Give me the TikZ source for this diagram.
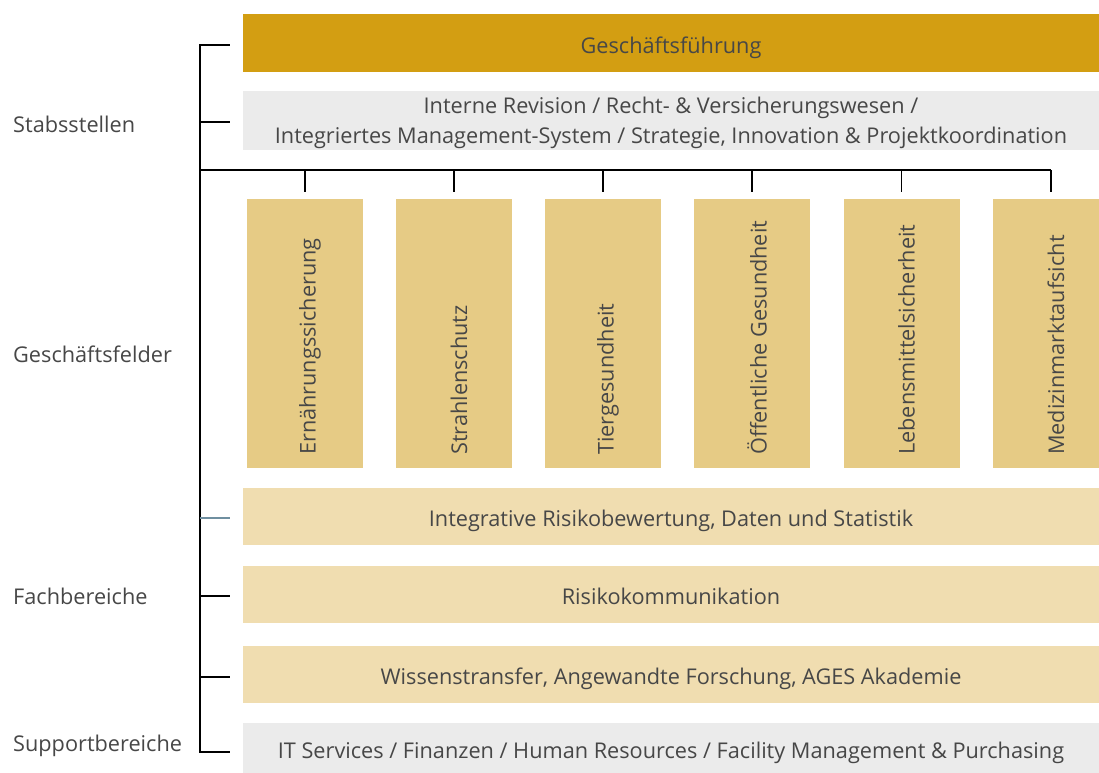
\documentclass[tikz,border=0pt]{standalone}
\usepackage{fontspec}
\setmainfont{Open Sans}
\definecolor{gold}{HTML}{D39E12}
\definecolor{tan}{HTML}{E6CB85}
\definecolor{lighttan}{HTML}{F0DDB0}
\definecolor{lightgrey}{HTML}{EBEBEB}
\definecolor{txt}{HTML}{474747}
\definecolor{tickblue}{HTML}{6F8FA0}
\begin{document}
\begin{tikzpicture}[x=1pt, y=-1pt,
    every node/.style={text=txt, font=\fontsize{21.7}{30}\selectfont},
    bar/.style={draw=none, minimum width=856pt, minimum height=58pt, inner sep=0pt, text height=20pt, text depth=0pt},
    field/.style={fill=tan, draw=none, minimum width=116pt, minimum height=269pt, inner sep=0pt},
    vlabel/.style={rotate=90, anchor=west, inner sep=0pt},
    link/.style={line width=1.1pt}]
    \useasboundingbox (0,0) rectangle (1099,772);
    % bars
    \node[bar, fill=gold] (gf) at (671,43) {Geschäftsführung};
    \node[bar, fill=lightgrey, align=center, minimum height=59pt, text height={}, text depth=0pt] (stab) at (671,120.5) {Interne Revision / Recht- \& Versicherungswesen /\\Integriertes Management-System / Strategie, Innovation \& Projektkoordination};
    \node[bar, fill=lighttan, minimum height=57pt] (irb) at (671,516.5) {Integrative Risikobewertung, Daten und Statistik};
    \node[bar, fill=lighttan, minimum height=57pt] (rk) at (671,594.5) {Risikokommunikation};
    \node[bar, fill=lighttan, minimum height=57pt] (wt) at (671,674.5) {Wissenstransfer, Angewandte Forschung, AGES Akademie};
    \node[bar, fill=lightgrey, minimum height=50pt] (sup) at (671,748) {IT Services / Finanzen / Human Resources / Facility Management \& Purchasing};
    % fields
    \node[field] (f1) at (305,333.5) {};
    \node[field] (f2) at (454,333.5) {};
    \node[field] (f3) at (603,333.5) {};
    \node[field] (f4) at (752,333.5) {};
    \node[field] (f5) at (901.5,333.5) {};
    \node[field] (f6) at (1051,333.5) {};
    \node[vlabel] at (310,455) {Ernährungssicherung};
    \node[vlabel] at (459,455) {Strahlenschutz};
    \node[vlabel] at (608,455) {Tiergesundheit};
    \node[vlabel] at (757,455) {Öffentliche Gesundheit};
    \node[vlabel] at (906.5,455) {Lebensmittelsicherheit};
    \node[vlabel] at (1056,455) {Medizinmarktaufsicht};
    % left labels
    \node[anchor=west, inner sep=0pt] (l1) at (13,124) {Stabsstellen};
    \node[anchor=west, inner sep=0pt] (l2) at (13,354) {Geschäftsfelder};
    \node[anchor=west, inner sep=0pt] (l3) at (13,596) {Fachbereiche};
    \node[anchor=west, inner sep=0pt] (l4) at (13,746) {Supportbereiche};
    % tree
    \coordinate (top) at (200,45);
    \coordinate (bot) at (200,752);
    \coordinate (fork) at (200,170);
    \draw[link] ([xshift=-13pt]gf.west |- top) -- (top) -- (bot) -- ([xshift=-13pt]sup.west |- bot);
    \draw[link] (200,122) -- ([xshift=-13pt]stab.west |- 0,122);
    \draw[link, tickblue] (200,518) -- ([xshift=-13pt]irb.west |- 0,518);
    \draw[link] (200,596) -- ([xshift=-13pt]rk.west |- 0,596);
    \draw[link] (200,677) -- ([xshift=-13pt]wt.west |- 0,677);
    \draw[link] (fork) -- (f6.north |- fork);
    \foreach \f in {f1,f2,f3,f4,f5,f6}
        \draw[link] (\f.north |- fork) -- ([yshift=7pt]\f.north);
\end{tikzpicture}
\end{document}
